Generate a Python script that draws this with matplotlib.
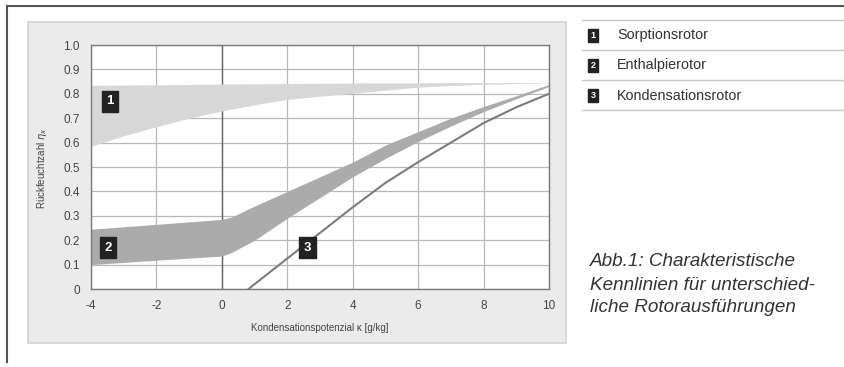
import matplotlib
matplotlib.use("Agg")
import matplotlib.pyplot as plt
from matplotlib.patches import Rectangle
from matplotlib.lines import Line2D

# --- data ---
x_band1 = [-4, -3, -2, -1, 0, 1, 2, 3, 4, 5, 6, 7, 8, 9, 10]
band1_lower = [0.585, 0.628, 0.665, 0.70, 0.73, 0.755, 0.777, 0.79, 0.802, 0.815, 0.827, 0.834, 0.839, 0.842, 0.845]
band1_upper = [0.835, 0.836, 0.837, 0.838, 0.840, 0.841, 0.842, 0.843, 0.844, 0.845, 0.845, 0.846, 0.846, 0.846, 0.846]

x_band2 = [-4, -2, 0, 0.3, 1, 2, 3, 4, 5, 6, 7, 8, 9, 10]
band2_lower = [0.10, 0.118, 0.135, 0.15, 0.20, 0.29, 0.375, 0.46, 0.535, 0.605, 0.668, 0.727, 0.78, 0.83]
band2_upper = [0.245, 0.265, 0.285, 0.295, 0.34, 0.40, 0.46, 0.52, 0.59, 0.645, 0.70, 0.748, 0.792, 0.838]

x_line3 = [0.82, 1, 2, 3, 4, 5, 6, 7, 8, 9, 10]
line3 = [0.0, 0.02, 0.125, 0.23, 0.335, 0.435, 0.52, 0.60, 0.68, 0.745, 0.80]

badge_labels = ["1", "2", "3"]
badge_x = [-3.42, -3.48, 2.62]
badge_y = [0.77, 0.17, 0.17]

legend_names = ["Sorptionsrotor", "Enthalpierotor", "Kondensationsrotor"]
x_ticks = [-4, -2, 0, 2, 4, 6, 8, 10]
y_ticks = [0.0, 0.1, 0.2, 0.3, 0.4, 0.5, 0.6, 0.7, 0.8, 0.9, 1.0]
y_ticklabels = ["0", "0.1", "0.2", "0.3", "0.4", "0.5", "0.6", "0.7", "0.8", "0.9", "1.0"]
x_label = "Kondensationspotenzial κ [g/kg]"
y_label = "Rückfeuchtzahl $\\eta_x$"
caption = ["Abb.1: Charakteristische", "Kennlinien für unterschied-", "liche Rotorausführungen"]

plt.rcParams['font.family'] = ['Liberation Sans', 'DejaVu Sans']
plt.rcParams['axes.unicode_minus'] = False
W, H = 845, 367
fig = plt.figure(figsize=(W / 100, H / 100), dpi=100)


def fx(px):
    return px / W


def fy(py):
    return 1 - py / H


# grey panel
fig.patches.append(Rectangle((fx(28), fy(343)), fx(566) - fx(28), fy(22) - fy(343),
                             transform=fig.transFigure, facecolor="#ebebeb",
                             edgecolor="#d2d2d2", lw=1.2, zorder=-5))
# outer frame lines
fig.lines.append(Line2D([fx(7), fx(845)], [fy(6), fy(6)], transform=fig.transFigure,
                        color="#555555", lw=1.5))
fig.lines.append(Line2D([fx(7), fx(7)], [fy(6), fy(362)], transform=fig.transFigure,
                        color="#555555", lw=1.5))

ax = fig.add_axes([fx(91), fy(289), fx(549) - fx(91), fy(45) - fy(289)])
ax.set_zorder(2)
ax.set_facecolor("white")
ax.set_xlim(-4, 10)
ax.set_ylim(0, 1.0)
ax.set_xticks(x_ticks)
ax.set_yticks(y_ticks)
ax.set_yticklabels(y_ticklabels)
ax.tick_params(length=0, labelsize=8.5, labelcolor="#444444", pad=8)
ax.grid(True, color="#b8b8b8", lw=0.9, zorder=1)
ax.set_axisbelow(True)
for s in ax.spines.values():
    s.set_color("#7a7a7a")
    s.set_linewidth(1.0)
ax.axvline(0, color="#666666", lw=1.0, zorder=1.5)

ax.fill_between(x_band1, band1_lower, band1_upper, color="#d7d7d7", lw=0, zorder=2)
ax.fill_between(x_band2, band2_lower, band2_upper, color="#ababab", lw=0, zorder=2)
ax.plot(x_line3, line3, color="#7c7c7c", lw=1.5, zorder=3)

for lab, bx, by in zip(badge_labels, badge_x, badge_y):
    ax.text(bx, by, lab, ha="center", va="center", color="white", fontsize=9.5,
            fontweight="bold", zorder=5,
            bbox=dict(boxstyle="square,pad=0.35", facecolor="#222222", edgecolor="#222222"))

fig.text(fx(320), fy(328), x_label, ha="center", va="center", fontsize=7, color="#444444")
fig.text(fx(42), fy(168), y_label, ha="center", va="center", rotation=90, fontsize=7,
         color="#444444")

# legend
for py in [20, 50, 80, 110]:
    fig.lines.append(Line2D([fx(582), fx(845)], [fy(py), fy(py)], transform=fig.transFigure,
                            color="#c8c8c8", lw=1.0))
for i, (lab, name) in enumerate(zip(badge_labels, legend_names)):
    py = 35.5 + 30 * i
    fig.text(fx(593), fy(py), lab, ha="center", va="center", color="white", fontsize=6.5,
             fontweight="bold",
             bbox=dict(boxstyle="square,pad=0.25", facecolor="#222222", edgecolor="#222222"))
    fig.text(fx(617), fy(py), name, ha="left", va="center", fontsize=10.4, color="#333333")

for i, line in enumerate(caption):
    fig.text(fx(590), fy(262 + 23 * i), line, ha="left", va="center", fontsize=13.6,
             style="italic", color="#333333")

fig.savefig("out.png", dpi=100)
